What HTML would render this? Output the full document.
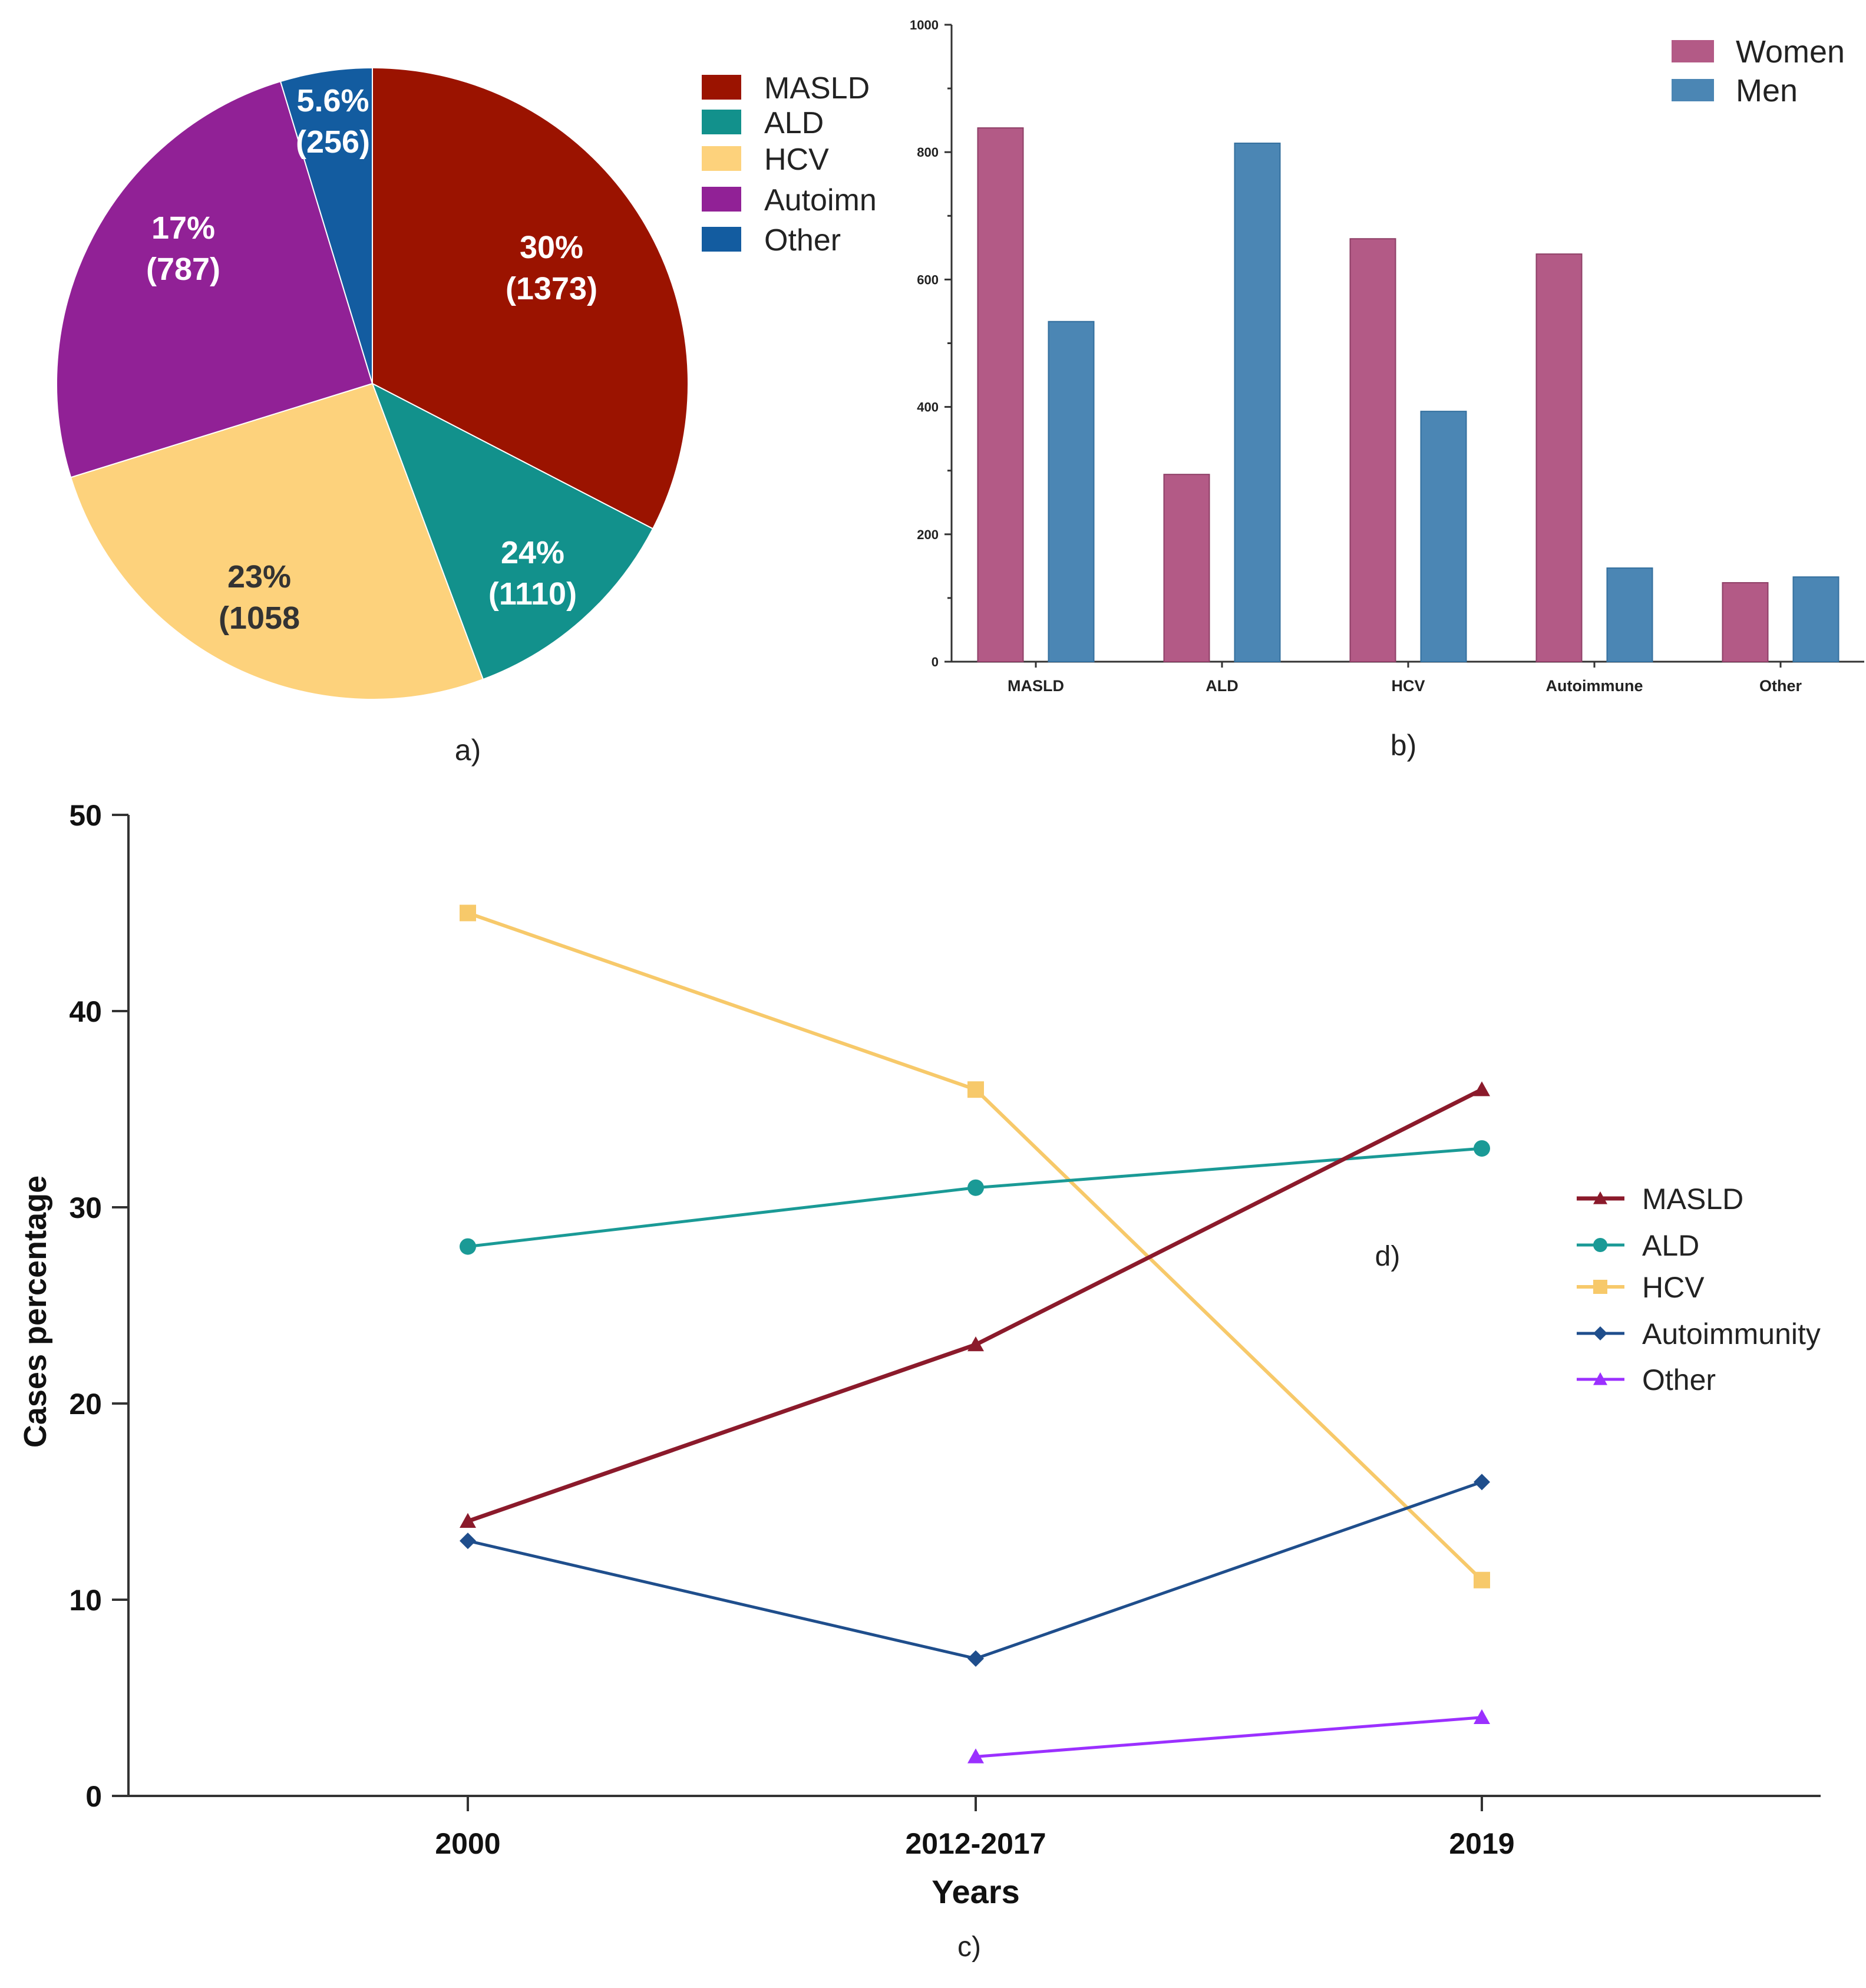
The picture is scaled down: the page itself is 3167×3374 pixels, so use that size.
<!DOCTYPE html>
<html><head><meta charset="utf-8"><style>
html,body{margin:0;padding:0;background:#fff}
svg{display:block}
text{font-family:"Liberation Sans",Arial,sans-serif}
</style></head><body>
<svg id="fig" width="3167" height="3374" viewBox="0 0 3167 3374" xmlns="http://www.w3.org/2000/svg">
<g id="pie"></g>
<g id="bars"></g>
<g id="lines"></g>
</svg>
<script>
// ---- Pie data ----
const pieLabels = ["MASLD","ALD","HCV","Autoimn","Other"];
const pieCounts = [1373,1110,1058,787,256];
const piePct = ["30%","24%","23%","17%","5.6%"];
const pieShare = [32.6,11.7,25.9,25.1,4.7];
const pieColors = ["#9b1300","#12918c","#fdd27c","#912196","#135ca0"];
// ---- Bar data ----
const barCats = ["MASLD","ALD","HCV","Autoimmune","Other"];
const womenVals = [838,294,664,640,124];
const menVals = [534,814,393,147,133];
const barTicks = [0,200,400,600,800,1000];
// ---- Line data ----
const years = ["2000","2012-2017","2019"];
const maslVals = [14,23,36];
const aldVals = [28,31,33];
const hcvVals = [45,36,11];
const autoVals = [13,7,16];
const otherVals = [null,2,4];
const lineTicks = [0,10,20,30,40,50];

const NS="http://www.w3.org/2000/svg";
function mk(parent,tag,attrs,txt){const e=document.createElementNS(NS,tag);for(const k in attrs)e.setAttribute(k,attrs[k]);if(txt!==undefined)e.textContent=txt;parent.appendChild(e);return e;}

// ===== PIE =====
(function(){
const g=document.getElementById('pie');
const cx=632,cy=651,r=536;
const tot=pieShare.reduce((a,b)=>a+b,0);
let a0=0;
const textCol=["#fff","#fff","#333","#fff","#fff"];
const labPos=[[936,419],[904,937],[440,978],[311,386],[565,170]];
pieShare.forEach((v,i)=>{
  const a1=a0+v/tot*360;
  const p=(a)=>{const t=(a-90)*Math.PI/180;return [cx+r*Math.cos(t),cy+r*Math.sin(t)];};
  const [x0,y0]=p(a0),[x1,y1]=p(a1);
  const s=mk(g,'path',{d:`M${cx},${cy} L${x0},${y0} A${r},${r} 0 ${a1-a0>180?1:0} 1 ${x1},${y1} Z`,fill:pieColors[i],stroke:'#fff','stroke-width':2});
  
  
  const [lx,ly]=labPos[i];
  const l1=mk(g,'text',{x:lx,y:ly+19,'text-anchor':'middle','font-size':54,'font-weight':'bold',fill:textCol[i]},piePct[i]);
  
  
  const l2=mk(g,'text',{x:lx,y:ly+89,'text-anchor':'middle','font-size':54,'font-weight':'bold',fill:textCol[i]},'('+pieCounts[i]+(i==2?'':')'));
  
  
  a0=a1;
});
const ly=[148,207,269,338,406];
pieLabels.forEach((n,i)=>{
  const r2=mk(g,'rect',{x:1191,y:ly[i]-21,width:67,height:42,fill:pieColors[i]});
  
  
  const t=mk(g,'text',{x:1297,y:ly[i]+19,'font-size':52,fill:'#222'},n);
  
  
});
const c=mk(g,'text',{x:794,y:1290,'text-anchor':'middle','font-size':50,fill:'#222'},'a)');


})();

// ===== BARS =====
(function(){
const g=document.getElementById('bars');
const X0=1615,Y0=1123,Y1=42,Xend=3164;
const yS=v=>Y0-(v/1000)*(Y0-Y1);
const catX=i=>1758+i*316;
const bw=77;
mk(g,'line',{x1:X0,y1:Y1,x2:X0,y2:Y0,stroke:'#333','stroke-width':3});
mk(g,'line',{x1:X0,y1:Y0,x2:Xend,y2:Y0,stroke:'#333','stroke-width':3});
for(let v=0;v<=1000;v+=100){mk(g,'line',{x1:X0-(v%200==0?12:7),y1:yS(v),x2:X0,y2:yS(v),stroke:'#333','stroke-width':3});}
barTicks.forEach(v=>{const t=mk(g,'text',{x:X0-22,y:yS(v)+8,'text-anchor':'end','font-size':22,'font-weight':'bold',fill:'#222'},v);
  
  });
barCats.forEach((c,i)=>{
  const cx=catX(i);
  const w=mk(g,'rect',{x:cx-60-bw/2,y:yS(womenVals[i]),width:bw,height:Y0-yS(womenVals[i]),fill:'#b35a86',stroke:'#8e3f66','stroke-width':2});
  
  
  const m=mk(g,'rect',{x:cx+60-bw/2,y:yS(menVals[i]),width:bw,height:Y0-yS(menVals[i]),fill:'#4b86b4',stroke:'#336f9e','stroke-width':2});
  
  
  mk(g,'line',{x1:cx,y1:Y0,x2:cx,y2:Y0+10,stroke:'#333','stroke-width':3});
  const t=mk(g,'text',{x:cx,y:1173,'text-anchor':'middle','font-size':27,'font-weight':'bold',fill:'#222'},c);
  
  
});
[["Women","#b35a86",87],["Men","#4b86b4",153]].forEach(([n,col,y])=>{
  const s=mk(g,'rect',{x:2837,y:y-19,width:72,height:38,fill:col});
  
  
  const t=mk(g,'text',{x:2946,y:y+19,'font-size':54,fill:'#222'},n);
  
  
});
const c=mk(g,'text',{x:2382,y:1282,'text-anchor':'middle','font-size':50,fill:'#222'},'b)');


})();

// ===== LINES =====
(function(){
const g=document.getElementById('lines');
const X0=218,Y0=3048,Y50=1383,Xend=3090;
const yS=v=>Y0-(v/50)*(Y0-Y50);
const xS=i=>[794,1656,2515][i];
mk(g,'line',{x1:X0,y1:Y50,x2:X0,y2:Y0,stroke:'#333','stroke-width':4});
mk(g,'line',{x1:X0,y1:Y0,x2:Xend,y2:Y0,stroke:'#333','stroke-width':4});
lineTicks.forEach(v=>{
  mk(g,'line',{x1:X0-28,y1:yS(v),x2:X0,y2:yS(v),stroke:'#333','stroke-width':4});
  const t=mk(g,'text',{x:173,y:yS(v)+18,'text-anchor':'end','font-size':50,'font-weight':'bold',fill:'#111'},v);
  
  
});
years.forEach((y,i)=>{
  mk(g,'line',{x1:xS(i),y1:Y0,x2:xS(i),y2:Y0+26,stroke:'#333','stroke-width':4});
  const t=mk(g,'text',{x:xS(i),y:3146,'text-anchor':'middle','font-size':50,'font-weight':'bold',fill:'#111'},y);
  
  
});
let t=mk(g,'text',{x:1656,y:3230,'text-anchor':'middle','font-size':56,'font-weight':'bold',fill:'#111'},'Years');


t=mk(g,'text',{x:78,y:2226,'text-anchor':'middle','font-size':54,'font-weight':'bold',fill:'#111',transform:'rotate(-90 78 2226)'},'Cases percentage');


t=mk(g,'text',{x:1645,y:3320,'text-anchor':'middle','font-size':48,fill:'#222'},'c)');


t=mk(g,'text',{x:2355,y:2148,'text-anchor':'middle','font-size':48,fill:'#222'},'d)');


function marker(par,shape,x,y,col,s){
  if(shape=='tri')return mk(par,'path',{d:`M${x},${y-s} L${x+s},${y+s*0.8} L${x-s},${y+s*0.8}Z`,fill:col});
  if(shape=='circ')return mk(par,'circle',{cx:x,cy:y,r:s,fill:col});
  if(shape=='sq')return mk(par,'rect',{x:x-s,y:y-s,width:2*s,height:2*s,fill:col});
  return mk(par,'path',{d:`M${x},${y-s} L${x+s},${y} L${x},${y+s} L${x-s},${y}Z`,fill:col});
}
const series=[["MASLD",maslVals,"#8b1a2b",7,"tri"],["ALD",aldVals,"#1a9a96",5,"circ"],["HCV",hcvVals,"#f7c96a",6,"sq"],["Autoimmunity",autoVals,"#1f4e8c",5,"dia"],["Other",otherVals,"#9b30ff",5,"tri"]];
const order=[2,1,3,4,0];
order.forEach(k=>{
  const [n,vals,col,w,sh]=series[k];
  const sg=mk(g,'g',{});
  
  
  const pts=[];vals.forEach((v,i)=>{if(v!==null)pts.push([xS(i),yS(v)]);});
  mk(sg,'polyline',{points:pts.map(p=>p.join(',')).join(' '),fill:'none',stroke:col,'stroke-width':w,'stroke-linejoin':'round'});
  pts.forEach(p=>{const m=marker(sg,sh,p[0],p[1],col,14);
    
    });
});
const ly=[2034,2113,2184,2263,2341];
series.forEach(([n,vals,col,w,sh],i)=>{
  const lg=mk(g,'g',{});
  
  
  mk(lg,'line',{x1:2676,y1:ly[i],x2:2757,y2:ly[i],stroke:col,'stroke-width':w});
  marker(lg,sh,2716,ly[i],col,12);
  mk(lg,'text',{x:2787,y:ly[i]+18,'font-size':50,fill:'#222'},n);
});
})();
</script>
</body></html>
